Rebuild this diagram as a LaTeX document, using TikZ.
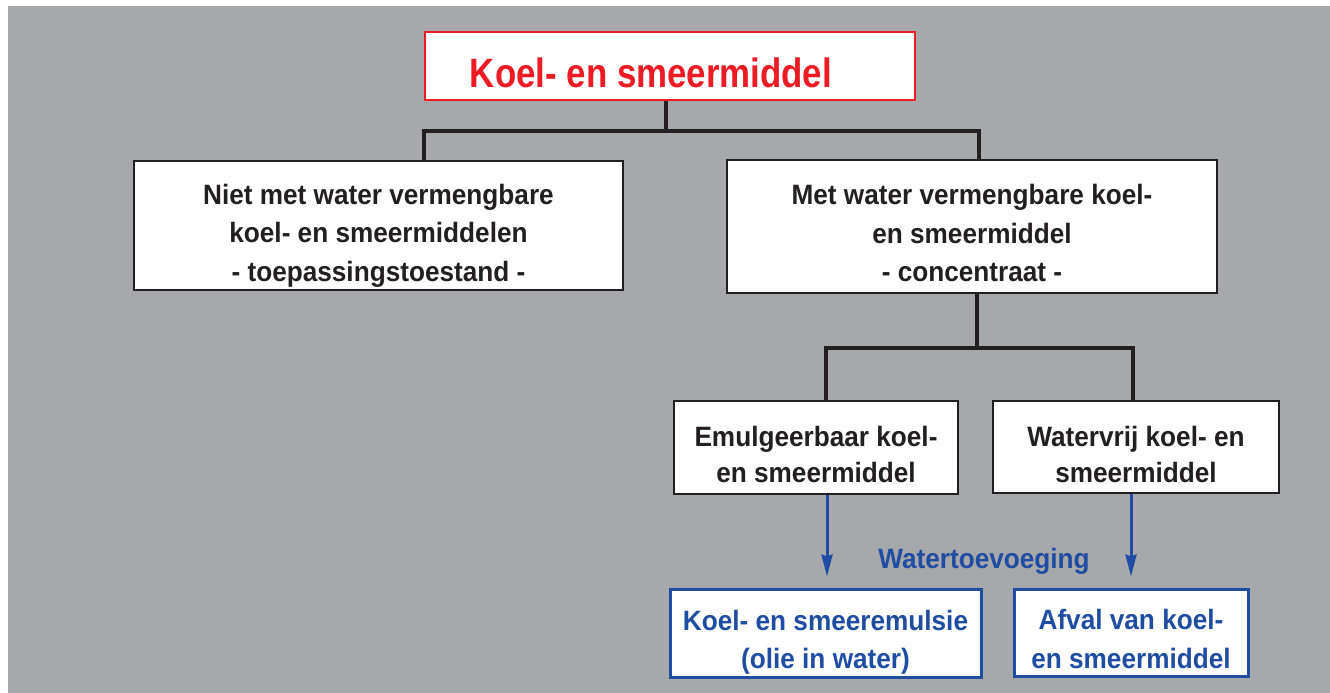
\documentclass[tikz,border=0pt]{standalone}
\usepackage{fontspec}
\newfontfamily\cond{Liberation Sans}[FakeStretch=0.935]
\newfontfamily\condt{Liberation Sans}[FakeStretch=0.85]
\usetikzlibrary{arrows.meta}
\definecolor{bg}{HTML}{A7A8AB}
\definecolor{tred}{HTML}{ED1C24}
\definecolor{tblue}{HTML}{1E4DA1}
\definecolor{tblack}{HTML}{231F20}
\newcommand{\mlines}[2]{\raisebox{-#1}[\height][\depth]{\begin{tabular}{@{}c@{}}#2\end{tabular}}}
\tikzset{
  box/.style={draw=tblack, line width=2pt, fill=white, rectangle, inner sep=0pt,
    font=\cond\bfseries\fontsize{28}{38.5}\selectfont, text=tblack},
  bluebox/.style={box, draw=tblue, line width=3pt, text=tblue},
  tree/.style={draw=tblack, line width=4pt},
  flow/.style={draw=tblue, line width=3pt, -{Stealth[length=22pt,width=11pt,inset=2pt]}}
}
\begin{document}
\begin{tikzpicture}[x=1pt,y=-1pt]
\useasboundingbox (0,0) rectangle (1330,693);
\fill[bg] (8,6) rectangle (1330,693);

\node[box, draw=tred, text=tred, minimum width=490pt, minimum height=68pt,
  font=\condt\bfseries\fontsize{41}{46}\selectfont] (top) at (670,66)
  {\raisebox{-7pt}[\height][\depth]{Koel- en smeermiddel}\hspace*{38pt}};

\node[box, minimum width=489pt, minimum height=129pt] (left) at (378.5,225)
  {\mlines{10pt}{Niet met water vermengbare\\koel- en smeermiddelen\\- toepassingstoestand -}};
\node[box, minimum width=490pt, minimum height=133pt] (right) at (972,226.5)
  {\mlines{9pt}{Met water vermengbare koel-\\en smeermiddel\\- concentraat -}};

\node[box, font=\cond\bfseries\fontsize{28}{36}\selectfont, minimum width=284pt, minimum height=93pt] (emul) at (816,447.5)
  {\mlines{10pt}{Emulgeerbaar koel-\\en smeermiddel}};
\node[box, font=\cond\bfseries\fontsize{28}{36}\selectfont, minimum width=286pt, minimum height=92pt] (vrij) at (1136,447)
  {\mlines{10pt}{Watervrij koel- en\\smeermiddel}};

\node[bluebox, minimum width=311pt, minimum height=88pt] (emulsie) at (825.5,633)
  {\mlines{9pt}{Koel- en smeeremulsie\\(olie in water)}};
\node[bluebox, minimum width=234pt, minimum height=87pt] (afval) at (1131,632.5)
  {\mlines{9pt}{Afval van koel-\\en smeermiddel}};

\node[font=\cond\bfseries\fontsize{28}{34}\selectfont, text=tblue] (water) at (984,561) {Watertoevoeging};

% tree connectors
\coordinate (j1) at (666,131);
\coordinate (xl) at (424,0);
\coordinate (xr) at (979,0);
\draw[tree] (top.south -| j1) -- (j1);
\draw[tree, line cap=rect] (left.north -| xl) |- (j1) -| (right.north -| xr);

\coordinate (j2) at (977,348);
\coordinate (xa) at (826,0);
\coordinate (xb) at (1133,0);
\draw[tree] (right.south -| j2) -- (j2);
\draw[tree, line cap=rect] (emul.north -| xa) |- (j2) -| (vrij.north -| xb);

% blue arrows
\coordinate (a1) at (827,0);
\coordinate (a2) at (1131,0);
\draw[flow, shorten >=11pt] (emul.south -| a1) -- (emulsie.north -| a1);
\draw[flow, shorten >=11pt] (vrij.south -| a2) -- (afval.north -| a2);
\end{tikzpicture}
\end{document}
